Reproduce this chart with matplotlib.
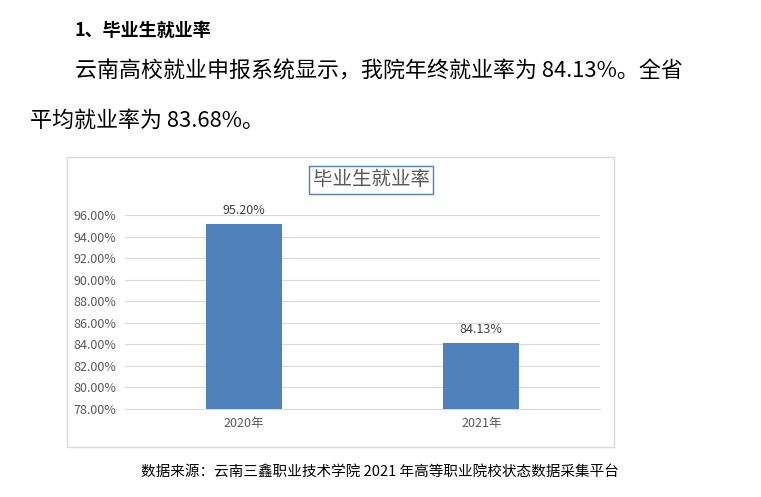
import matplotlib
matplotlib.use("Agg")
import matplotlib.pyplot as plt
from matplotlib.patches import Rectangle

plt.rcParams['font.family'] = ['Noto Sans CJK SC', 'DejaVu Sans']

categories = ["2020年", "2021年"]
values = [95.20, 84.13]
yticks = [78, 80, 82, 84, 86, 88, 90, 92, 94, 96]

W, H = 761, 497
fig = plt.figure(figsize=(W/100, H/100), dpi=100)
fig.patch.set_facecolor('white')

def fx(x): return x / W
def fy(y): return 1 - y / H

fig.text(fx(75), fy(30), "1、毕业生就业率", fontsize=13, fontweight='bold', va='center', ha='left')
fig.text(fx(75), fy(72), "云南高校就业申报系统显示，我院年终就业率为 84.13%。全省",
         fontsize=15.8, va='center', ha='left')
fig.text(fx(30), fy(121), "平均就业率为 83.68%。", fontsize=15.8, va='center', ha='left')
fig.text(fx(380), fy(472), "数据来源：云南三鑫职业技术学院 2021 年高等职业院校状态数据采集平台",
         fontsize=10.5, fontweight='medium', va='center', ha='center')

fig.patches.append(Rectangle((fx(67), fy(447)), (614-67)/W, (447-157)/H,
                             transform=fig.transFigure, fill=False, edgecolor='#D9D9D9', lw=1))

fig.text(fx(371), fy(180), "毕业生就业率", fontsize=14, color='#595959', va='center', ha='center',
         bbox=dict(boxstyle='square,pad=0.2', facecolor='white', edgecolor='#4F81BD', lw=1))

ax = fig.add_axes([fx(125), fy(409), (600-125)/W, (409-215)/H])
x = range(len(categories))
bars = ax.bar(x, values, width=0.32, color='#4F81BD', zorder=3)
ax.set_ylim(78, 96)
ax.set_xlim(-0.5, 1.5)
ax.set_yticks(yticks)
ax.set_yticklabels([f"{v:.2f}%" for v in yticks], fontsize=9, color='#595959')
ax.set_xticks(list(x))
ax.set_xticklabels(categories, fontsize=9, color='#595959')
ax.grid(axis='y', color='#D9D9D9', lw=0.8, zorder=0)
for s in ['top', 'right', 'left']:
    ax.spines[s].set_visible(False)
ax.spines['bottom'].set_color('#D9D9D9')
ax.tick_params(length=0, pad=6)
for xi, v in zip(x, values):
    ax.text(xi, v + 0.6, f"{v:.2f}%", ha='center', va='bottom', fontsize=9, color='#404040')

fig.savefig("out.png", dpi=100)
